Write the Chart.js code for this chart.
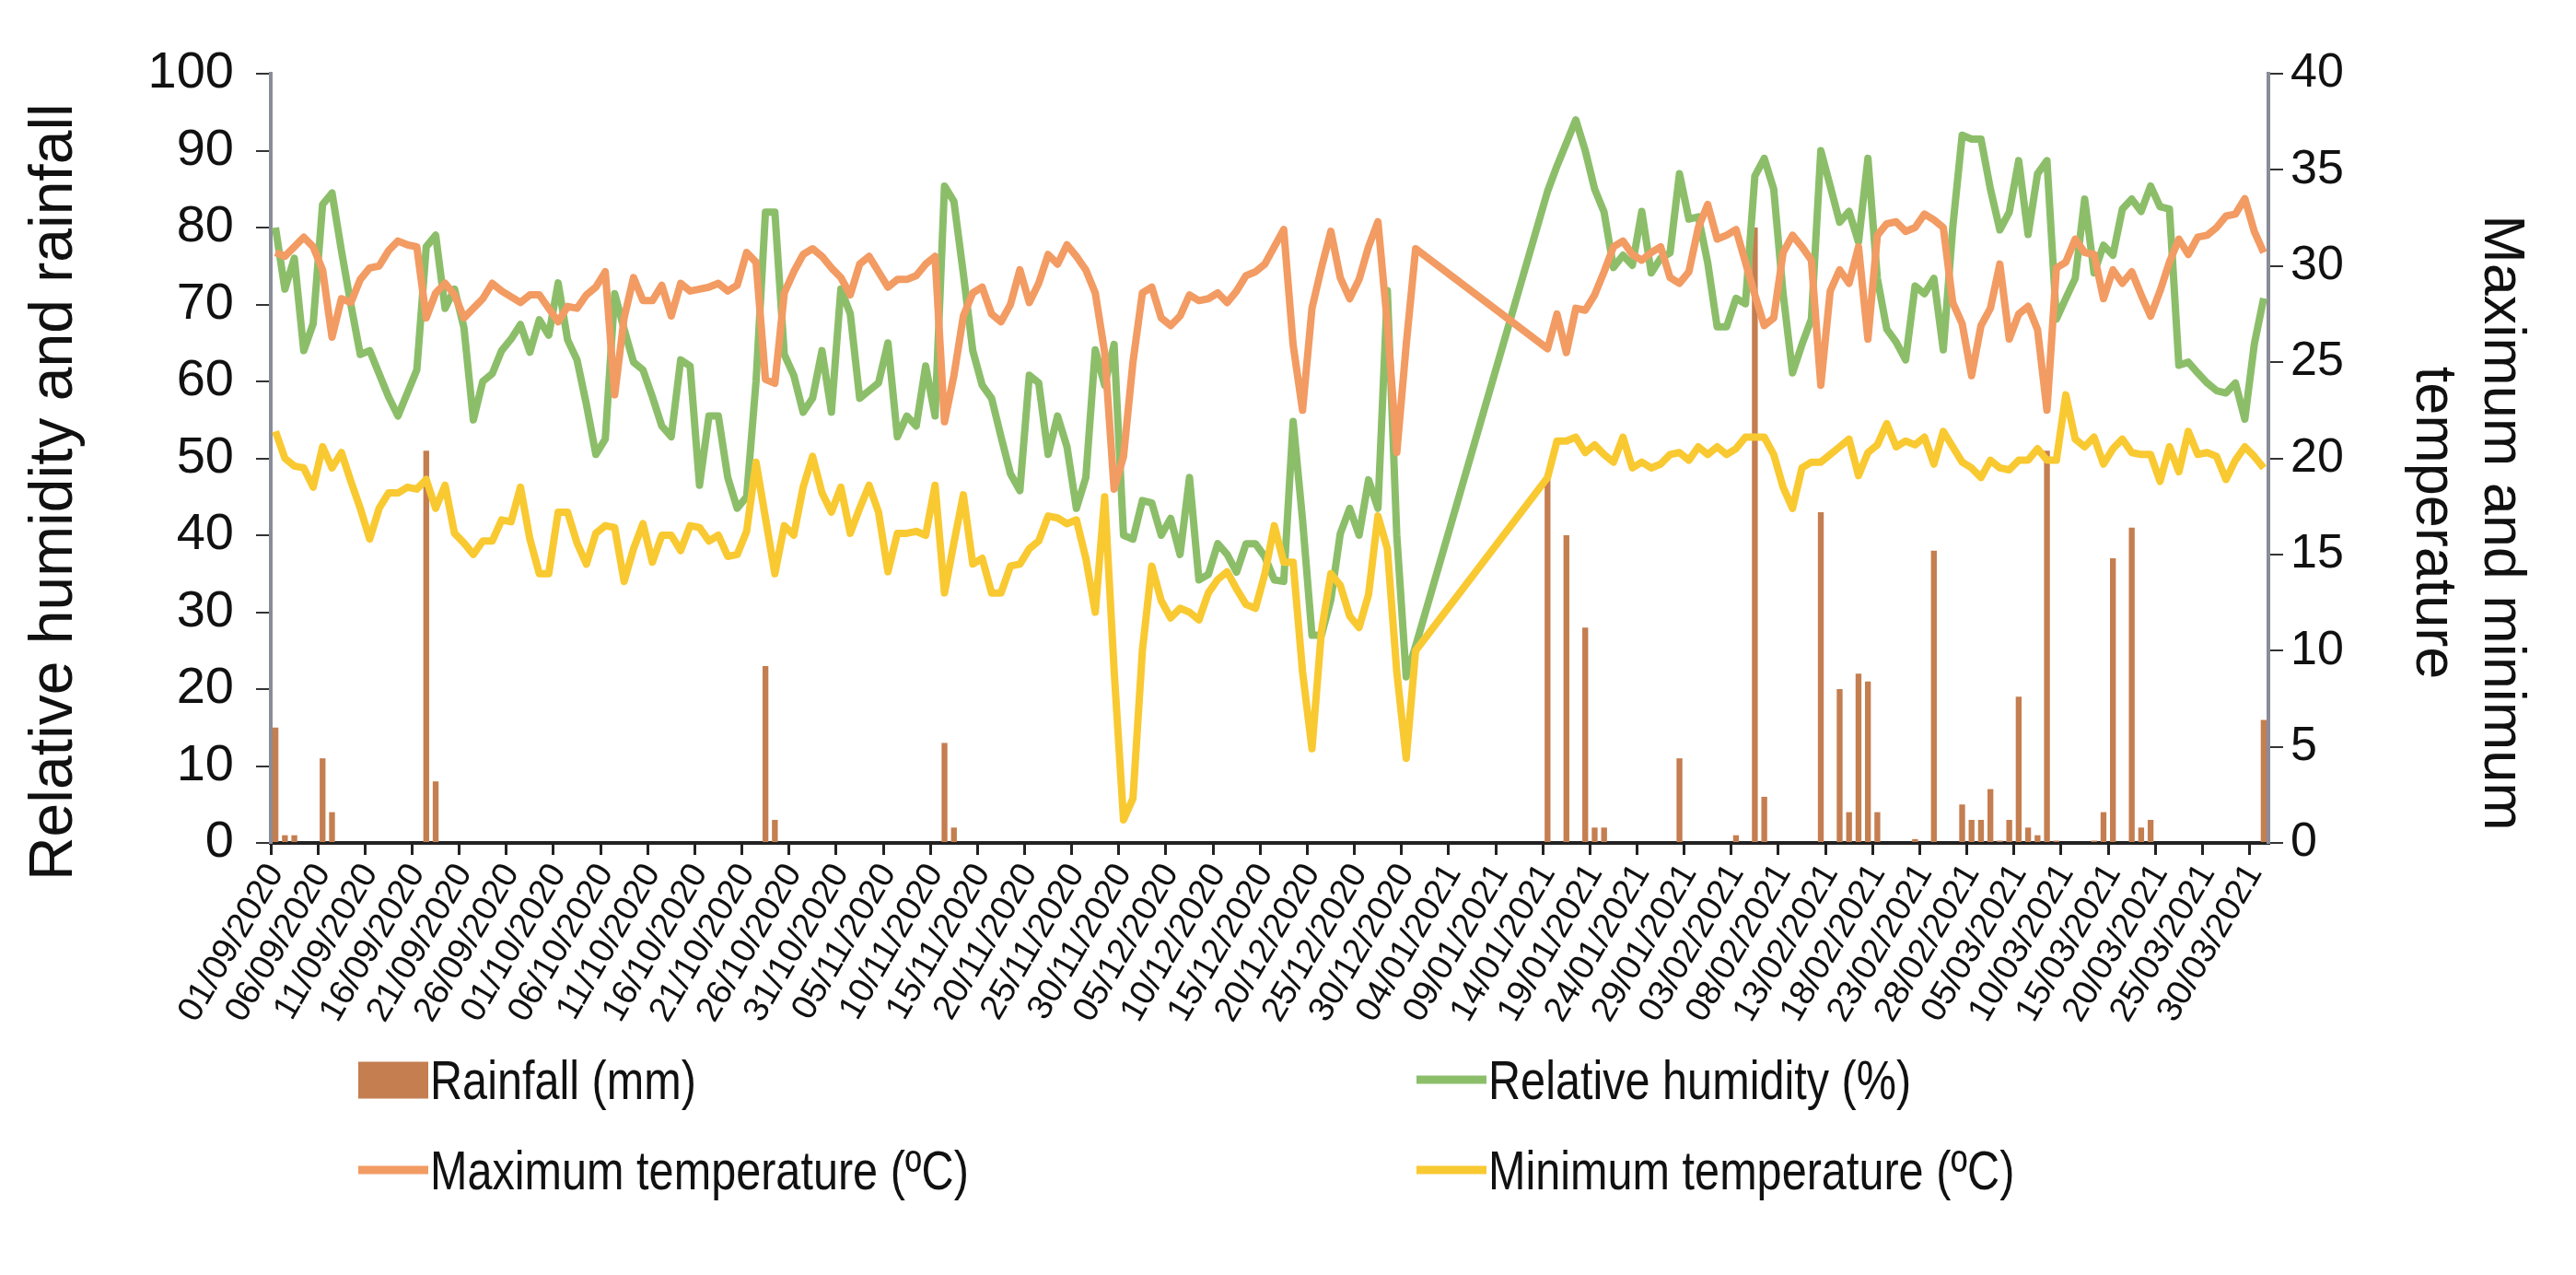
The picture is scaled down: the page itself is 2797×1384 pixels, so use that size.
<!DOCTYPE html>
<html lang="en">
<head>
<meta charset="UTF-8" />
<title>Rainfall, relative humidity and temperature</title>
<script src="https://cdn.jsdelivr.net/npm/chart.js"></script>
<style>
  body { margin: 0; background: #fff; }
  .wrap { position: relative; width: 2797px; height: 1384px; }
  #chart { position: absolute; left: 0; top: 0; }
  .legend-item {
    position: absolute;
    display: flex;
    align-items: center;
    white-space: nowrap;
    font-family: "Liberation Sans", Arial, sans-serif;
    font-size: 60px;
    color: #111;
    transform: translateY(-50%);
  }
  .legend-item .txt { display: inline-block; transform: scaleX(0.81); transform-origin: left center; }
  .swatch { display: inline-block; margin-right: 2px; }
</style>
</head>
<body>
<div class="wrap">
  <canvas id="chart" width="2797" height="1384"></canvas>
  <div id="legend"></div>
</div>
<script>
// daily series, 01/09/2020 .. 31/03/2021 (212 days), rows of 10 days
const humidity = [
  80, 72, 76, 64, 67.5, 83, 84.5, 77, 70, 63.5,
  64, 61, 58, 55.5, 58.5, 61.5, 77.5, 79, 69.5, 72,
  67, 55, 60, 61, 64, 65.5, 67.4, 63.8, 68, 66,
  72.8, 65.4, 62.8, 57, 50.5, 52.5, 71.4, 66.8, 62.5, 61.5,
  58, 54.2, 52.8, 62.8, 62, 46.5, 55.5, 55.5, 47.5, 43.5,
  45, 60, 82, 82, 63.5, 60.8, 56, 57.8, 64, 56,
  72, 68.8, 57.8, 58.8, 59.8, 65, 52.8, 55.5, 54.2, 62,
  55.5, 85.4, 83.4, 74, 64, 59.5, 57.8, 52.8, 48, 45.8,
  60.8, 59.8, 50.5, 55.5, 51.5, 43.5, 47.5, 64.1, 59.5, 64.8,
  40, 39.5, 44.5, 44.2, 40, 42.2, 37.5, 47.5, 34.2, 34.9,
  38.9, 37.5, 35.2, 38.9, 38.9, 37.2, 34.2, 34, 54.8, 42,
  27, 27, 31.6, 40.2, 43.5, 40, 47.2, 43.5, 71.8, 40,
  21.6, 25.6, null, null, null, null, null, null, null, null,
  null, null, null, null, null, 84.7, 88, 91, 94, 90,
  85, 82, 74.8, 76.4, 75.1, 82.1, 74.1, 76, 76.7, 87,
  81.1, 81.4, 75.4, 67.1, 67.1, 70.8, 70.1, 86.7, 89, 85,
  71.4, 61.1, 64.8, 68.1, 90, 85.4, 80.7, 82.1, 78.1, 89,
  73.4, 66.8, 65.1, 62.8, 72.4, 71.4, 73.4, 64.1, 80, 92,
  91.5, 91.5, 85, 79.7, 82, 88.7, 79.1, 87, 88.7, 68.1,
  70.8, 73.4, 83.7, 74.1, 77.7, 76.4, 82.4, 83.7, 82.1, 85.4,
  82.7, 82.4, 62.1, 62.5, 61.1, 59.8, 58.8, 58.5, 59.8, 55.1,
  64.8, 70.8
];

const maxTemp = [
  30.7, 30.5, 31, 31.5, 31, 29.8, 26.3, 28.3, 28.1, 29.3,
  29.9, 30, 30.8, 31.3, 31.1, 31, 27.3, 28.6, 29.1, 28.5,
  27.3, 27.8, 28.3, 29.1, 28.7, 28.4, 28.1, 28.5, 28.5, 27.8,
  27.1, 27.9, 27.8, 28.5, 28.9, 29.7, 23.3, 27.3, 29.4, 28.2,
  28.2, 29, 27.4, 29.1, 28.7, 28.8, 28.9, 29.1, 28.7, 29,
  30.7, 30.2, 24.1, 23.9, 28.6, 29.7, 30.6, 30.9, 30.5, 29.9,
  29.4, 28.5, 30.1, 30.5, 29.7, 28.9, 29.3, 29.3, 29.5, 30.1,
  30.5, 21.9, 24.3, 27.4, 28.6, 28.9, 27.5, 27.1, 28, 29.8,
  28.1, 29.1, 30.6, 30.1, 31.1, 30.5, 29.8, 28.6, 25.5, 18.4,
  20.1, 25, 28.6, 28.9, 27.3, 26.9, 27.4, 28.5, 28.2, 28.3,
  28.6, 28.1, 28.7, 29.5, 29.7, 30.1, 31, 31.9, 25.9, 22.5,
  27.8, 29.9, 31.8, 29.4, 28.3, 29.3, 31, 32.3, 27, 20.3,
  25.9, 30.9, null, null, null, null, null, null, null, null,
  null, null, null, null, null, 25.7, 27.5, 25.5, 27.8, 27.7,
  28.5, 29.7, 31, 31.3, 30.6, 30.3, 30.7, 31, 29.4, 29.1,
  29.7, 32, 33.2, 31.4, 31.6, 31.9, 30.2, 28.5, 26.9, 27.3,
  30.7, 31.6, 31, 30.3, 23.8, 28.7, 29.8, 29.1, 31, 26.2,
  31.6, 32.2, 32.3, 31.8, 32, 32.7, 32.4, 32, 28.1, 27,
  24.3, 26.9, 27.8, 30.1, 26.2, 27.5, 27.9, 26.7, 22.5, 29.9,
  30.2, 31.4, 30.7, 30.6, 28.3, 29.8, 29.1, 29.7, 28.5, 27.4,
  28.7, 30.2, 31.4, 30.6, 31.5, 31.6, 32, 32.6, 32.7, 33.5,
  31.8, 30.7
];

const minTemp = [
  21.4, 20, 19.6, 19.5, 18.5, 20.6, 19.5, 20.3, 18.8, 17.4,
  15.8, 17.4, 18.2, 18.2, 18.5, 18.4, 18.9, 17.4, 18.6, 16.1,
  15.6, 15, 15.7, 15.7, 16.8, 16.7, 18.5, 15.8, 14, 14,
  17.2, 17.2, 15.6, 14.5, 16.1, 16.5, 16.4, 13.6, 15.3, 16.6,
  14.6, 16, 16, 15.2, 16.5, 16.4, 15.7, 16, 14.9, 15,
  16.2, 19.8, 16.9, 14, 16.5, 16, 18.5, 20.1, 18.2, 17.2,
  18.5, 16.1, 17.4, 18.6, 17.2, 14.1, 16.1, 16.1, 16.2, 16,
  18.6, 13, 15.6, 18.1, 14.5, 14.8, 13, 13, 14.4, 14.5,
  15.3, 15.7, 17, 16.9, 16.6, 16.8, 14.8, 12, 18, 9,
  1.2, 2.3, 10, 14.4, 12.6, 11.7, 12.2, 12, 11.6, 13,
  13.7, 14.1, 13.2, 12.4, 12.2, 14, 16.5, 14.6, 14.6, 8.9,
  4.9, 11, 14, 13.4, 11.8, 11.2, 12.9, 17, 15.3, 8.9,
  4.4, 10, null, null, null, null, null, null, null, null,
  null, null, null, null, null, 19, 20.9, 20.9, 21.1, 20.3,
  20.7, 20.2, 19.8, 21.1, 19.5, 19.8, 19.5, 19.7, 20.2, 20.3,
  19.9, 20.6, 20.2, 20.6, 20.2, 20.5, 21.1, 21.1, 21.1, 20.2,
  18.5, 17.4, 19.5, 19.8, 19.8, 20.2, 20.6, 21, 19.1, 20.3,
  20.7, 21.8, 20.6, 20.9, 20.7, 21.1, 19.7, 21.4, 20.6, 19.8,
  19.5, 19, 19.9, 19.5, 19.4, 19.9, 19.9, 20.5, 19.9, 19.9,
  23.3, 21, 20.6, 21.1, 19.7, 20.5, 21, 20.3, 20.2, 20.2,
  18.8, 20.6, 19.3, 21.4, 20.2, 20.3, 20.1, 18.9, 19.9, 20.6,
  20.1, 19.5
];

const rainfall = [
  15, 1, 1, 0, 0, 11, 4, 0, 0, 0,
  0, 0, 0, 0, 0, 0, 51, 8, 0, 0,
  0, 0, 0, 0, 0, 0, 0, 0, 0, 0,
  0, 0, 0, 0, 0, 0, 0, 0, 0, 0,
  0, 0, 0, 0, 0, 0, 0, 0, 0, 0,
  0, 0, 23, 3, 0, 0, 0, 0, 0, 0,
  0, 0, 0, 0, 0, 0, 0, 0, 0, 0,
  0, 13, 2, 0, 0, 0, 0, 0, 0, 0,
  0, 0, 0, 0, 0, 0, 0, 0, 0, 0,
  0, 0, 0, 0, 0, 0, 0, 0, 0, 0,
  0, 0, 0, 0, 0, 0, 0, 0, 0, 0,
  0, 0, 0, 0, 0, 0, 0, 0, 0, 0,
  0, 0, 0, 0, 0, 0, 0, 0, 0, 0,
  0, 0, 0, 0, 0, 48, 0, 40, 0, 28,
  2, 2, 0, 0, 0, 0, 0, 0, 0, 11,
  0, 0, 0, 0, 0, 1, 0, 80, 6, 0,
  0, 0, 0, 0, 43, 0, 20, 4, 22, 21,
  4, 0, 0, 0, 0.5, 0, 38, 0, 0, 5,
  3, 3, 7, 0.3, 3, 19, 2, 1, 51, 0.3,
  0, 0, 0, 0.3, 4, 37, 0, 41, 2, 3,
  0, 0, 0, 0, 0, 0, 0, 0, 0, 0,
  0, 16
];

// one label per day, only every 5th is printed
const dates = [];
for (let i = 0; i < humidity.length; i++) {
  const d = new Date(2020, 8, 1 + i);
  dates.push(
    String(d.getDate()).padStart(2, "0") + "/" +
    String(d.getMonth() + 1).padStart(2, "0") + "/" + d.getFullYear()
  );
}
const tickEvery = 5;

const rainColor = "#C47E50";
const humColor = "#8CBE6A";
const maxColor = "#F29B63";
const minColor = "#F9C932";

const sans = "'Liberation Sans', Arial, sans-serif";

const plotLeft = 294;
const plotRight = 2463;
const plotTop = 80;
const plotBottom = 915;
const W = 2797, H = 1384;

const lineDs = (label, data, axis, color, order) => ({
  type: "line",
  label: label,
  data: data,
  yAxisID: axis,
  borderColor: color,
  backgroundColor: color,
  borderWidth: 8,
  pointRadius: 0,
  tension: 0,
  spanGaps: true,
  borderJoinStyle: "round",
  order: order,
});

const chart = new Chart(document.getElementById("chart"), {
  type: "bar",
  data: {
    labels: dates,
    datasets: [
      {
        type: "bar",
        label: "Rainfall (mm)",
        data: rainfall,
        yAxisID: "y",
        backgroundColor: rainColor,
        barPercentage: 0.62,
        categoryPercentage: 1,
        order: 5,
      },
      lineDs("Relative humidity (%)", humidity, "y", humColor, 3),
      lineDs("Maximum temperature (ºC)", maxTemp, "y1", maxColor, 2),
      lineDs("Minimum temperature (ºC)", minTemp, "y1", minColor, 1),
    ],
  },
  options: {
    responsive: false,
    animation: false,
    layout: { padding: { top: plotTop, left: 0, right: 0, bottom: 0 } },
    plugins: { legend: { display: false }, tooltip: { enabled: false } },
    scales: {
      x: {
        type: "category",
        offset: true,
        grid: {
          offset: true,
          drawOnChartArea: false,
          tickLength: 13,
          lineWidth: 3,
          color: (c) => (c.index % tickEvery === 0 ? "#222" : "rgba(0,0,0,0)"),
        },
        border: { color: "#222", width: 4 },
        ticks: {
          autoSkip: false,
          minRotation: 60,
          maxRotation: 60,
          padding: 2,
          color: "#111",
          font: { family: sans, size: 38 },
          callback: (v, i) => (i % tickEvery === 0 ? dates[i] : ""),
        },
        afterFit: (s) => { s.height = H - plotBottom; },
      },
      y: {
        position: "left",
        min: 0,
        max: 100,
        ticks: { stepSize: 10, padding: 24, color: "#111", font: { family: sans, size: 56 } },
        grid: { drawOnChartArea: false, tickLength: 16, lineWidth: 2, color: "#333" },
        border: { color: "#8A8C98", width: 4 },
        title: {
          display: true,
          // trailing spaces push the rotated title a little lower, as in the source figure
          text: "Relative humidity and rainfall    ",
          color: "#111",
          font: { family: sans, size: 66, lineHeight: 1.1 },
          padding: { top: 23, bottom: 0 },
        },
        afterFit: (s) => { s.width = plotLeft; },
      },
      y1: {
        position: "right",
        min: 0,
        max: 40,
        ticks: { stepSize: 5, padding: 8, color: "#111", font: { family: sans, size: 52 } },
        grid: { drawOnChartArea: false, tickLength: 16, lineWidth: 2, color: "#333" },
        border: { color: "#8A8C98", width: 4 },
        title: {
          display: true,
          text: ["        Maximum and minimum", "        temperature"],
          color: "#111",
          font: { family: sans, size: 63, lineHeight: 1.18 },
          padding: { top: 44, bottom: 0 },
        },
        afterFit: (s) => { s.width = W - plotRight; },
      },
    },
  },
});

// legend in two columns, built from the chart datasets
const legendPos = [
  { left: 389, top: 1172 },
  { left: 1538, top: 1172 },
  { left: 389, top: 1270 },
  { left: 1538, top: 1270 },
];
const legendEl = document.getElementById("legend");
chart.data.datasets.forEach((ds, i) => {
  const item = document.createElement("div");
  item.className = "legend-item";
  item.style.left = legendPos[i].left + "px";
  item.style.top = legendPos[i].top + "px";
  const sw = document.createElement("span");
  sw.className = "swatch";
  sw.style.background = ds.backgroundColor;
  sw.style.width = "76px";
  sw.style.height = ds.type === "bar" ? "40px" : "9px";
  const txt = document.createElement("span");
  txt.className = "txt";
  txt.textContent = ds.label;
  item.appendChild(sw);
  item.appendChild(txt);
  legendEl.appendChild(item);
});
</script>
</body>
</html>
